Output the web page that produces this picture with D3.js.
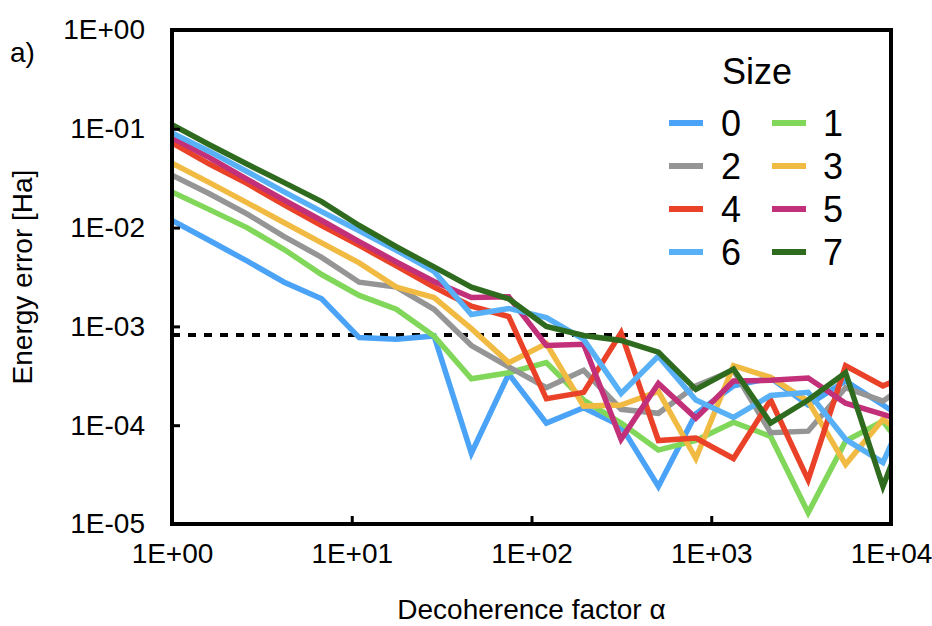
<!DOCTYPE html>
<html>
<head>
<meta charset="utf-8">
<script src="https://cdn.jsdelivr.net/npm/d3@7"></script>
<style>
  html, body { margin: 0; padding: 0; background: #fff; }
  svg { display: block; font-family: "Liberation Sans", Arial, Helvetica, sans-serif; }
</style>
</head>
<body>
<svg id="chart" width="932" height="626"></svg>
<script>
// ---- data ----
const alpha = [1, 1.615, 2.61, 4.21, 6.80, 11.0, 17.7, 28.7, 46.3, 74.7, 121, 195, 315, 508, 821, 1330, 2140, 3460, 5590, 9020, 14600];

const size0 = [1.18e-2, 7.4e-3, 4.6e-3, 2.8e-3, 1.9e-3, 7.7e-4, 7.4e-4, 8.0e-4, 5.2e-5, 3.3e-4, 1.05e-4, 1.5e-4, 9.8e-5, 2.4e-5, 1.3e-4, 2.5e-4, 3.0e-4, 1.6e-4, 2.8e-4, 1.6e-4, 9.0e-5];
const size1 = [2.3e-2, 1.52e-2, 1.0e-2, 6.0e-3, 3.35e-3, 2.06e-3, 1.49e-3, 8.0e-4, 2.95e-4, 3.4e-4, 4.3e-4, 1.8e-4, 1.05e-4, 5.6e-5, 7.0e-5, 1.07e-4, 7.7e-5, 1.3e-5, 6.9e-5, 1.1e-4, 3.4e-5];
const size2 = [3.4e-2, 2.2e-2, 1.38e-2, 8.1e-3, 5.0e-3, 2.8e-3, 2.5e-3, 1.49e-3, 6.4e-4, 3.9e-4, 2.4e-4, 3.6e-4, 1.45e-4, 1.32e-4, 2.5e-4, 3.6e-4, 8.4e-5, 8.7e-5, 2.4e-4, 1.75e-4, 3.3e-4];
const size3 = [4.5e-2, 2.85e-2, 1.79e-2, 1.12e-2, 7.0e-3, 4.4e-3, 2.5e-3, 1.96e-3, 9.5e-4, 4.3e-4, 6.7e-4, 1.56e-4, 1.6e-4, 2.2e-4, 4.6e-5, 4.0e-4, 3.05e-4, 1.75e-4, 4.0e-5, 1.15e-4, 6.1e-5];
const size4 = [7.2e-2, 4.4e-2, 2.8e-2, 1.7e-2, 1.05e-2, 6.6e-3, 4.1e-3, 2.5e-3, 1.6e-3, 1.26e-3, 1.85e-4, 2.15e-4, 8.6e-4, 7.0e-5, 7.4e-5, 4.6e-5, 1.8e-4, 2.8e-5, 4.0e-4, 2.5e-4, 3.6e-4];
const size5 = [8.1e-2, 5.1e-2, 3.1e-2, 1.9e-2, 1.18e-2, 7.2e-3, 4.5e-3, 2.85e-3, 1.96e-3, 2.0e-3, 6.4e-4, 6.6e-4, 7.2e-5, 2.65e-4, 1.18e-4, 2.8e-4, 2.85e-4, 3.0e-4, 1.67e-4, 1.29e-4, 9.8e-5];
const size6 = [9.1e-2, 5.9e-2, 3.7e-2, 2.3e-2, 1.45e-2, 9.3e-3, 5.9e-3, 3.6e-3, 1.32e-3, 1.52e-3, 1.23e-3, 7.4e-4, 2.1e-4, 5.0e-4, 1.8e-4, 1.2e-4, 2.0e-4, 2.15e-4, 7.2e-5, 4.2e-5, 2.9e-4];
const size7 = [1.10e-1, 6.9e-2, 4.4e-2, 2.85e-2, 1.83e-2, 1.05e-2, 6.4e-3, 4.0e-3, 2.5e-3, 1.9e-3, 1.0e-3, 8.1e-4, 7.2e-4, 5.5e-4, 2.3e-4, 3.7e-4, 1.05e-4, 1.8e-4, 3.4e-4, 2.4e-5, 2.3e-4];

const seriesNames = ["0", "1", "2", "3", "4", "5", "6", "7"];
const seriesValues = [size0, size1, size2, size3, size4, size5, size6, size7];
const seriesColors = ["#4aa3f7", "#81d75a", "#959595", "#f1bb43", "#ea4228", "#c3307a", "#58b0f6", "#2e6b1f"];

const threshold = 8.2e-4;

const xTicks = [1, 10, 100, 1000, 10000];
const xTickLabels = ["1E+00", "1E+01", "1E+02", "1E+03", "1E+04"];
const yTicks = [1, 0.1, 0.01, 0.001, 0.0001, 0.00001];
const yTickLabels = ["1E+00", "1E-01", "1E-02", "1E-03", "1E-04", "1E-05"];

const xTitle = "Decoherence factor α";
const yTitle = "Energy error [Ha]";
const legendTitle = "Size";
const panelLabel = "a)";

// ---- layout ----
const L = 172, R = 891, T = 30, B = 524;
const svg = d3.select("#chart");

const x = d3.scaleLog().domain([1, 1e4]).range([L, R]);
const y = d3.scaleLog().domain([1e-5, 1]).range([B, T]);

svg.append("defs").append("clipPath").attr("id", "plotclip")
  .append("rect").attr("x", L).attr("y", T).attr("width", R - L).attr("height", B - T);

// threshold dashed line
svg.append("line")
  .attr("x1", x(1)).attr("x2", x(1e4))
  .attr("y1", y(threshold)).attr("y2", y(threshold))
  .attr("stroke", "#000").attr("stroke-width", 4)
  .attr("stroke-dasharray", "8,8");

// series lines
const line = d3.line().x((d, i) => x(alpha[i])).y(d => y(d));
const gLines = svg.append("g").attr("clip-path", "url(#plotclip)");
seriesValues.forEach((vals, s) => {
  gLines.append("path")
    .attr("d", line(vals))
    .attr("fill", "none")
    .attr("stroke", seriesColors[s])
    .attr("stroke-width", 5.5)
    .attr("stroke-linejoin", "miter");
});

// axes
const tickFont = 28;
const yAxis = d3.axisLeft(y)
  .tickValues(yTicks)
  .tickFormat((d, i) => yTickLabels[i])
  .tickSizeInner(-8).tickSizeOuter(0).tickPadding(27);
const gy = svg.append("g").attr("transform", `translate(${L},0)`).call(yAxis);
gy.select(".domain").remove();
gy.selectAll(".tick line").attr("stroke", "#000").attr("stroke-width", 3);
gy.selectAll(".tick text").attr("font-size", tickFont).attr("fill", "#000")
  .attr("font-family", "'Liberation Sans', Arial, sans-serif");

const xAxis = d3.axisBottom(x)
  .tickValues(xTicks)
  .tickFormat((d, i) => xTickLabels[i])
  .tickSizeInner(-8).tickSizeOuter(0).tickPadding(19);
const gx = svg.append("g").attr("transform", `translate(0,${B})`).call(xAxis);
gx.select(".domain").remove();
gx.selectAll(".tick line").attr("stroke", "#000").attr("stroke-width", 3);
gx.selectAll(".tick text").attr("font-size", tickFont).attr("fill", "#000")
  .attr("font-family", "'Liberation Sans', Arial, sans-serif");

// frame
svg.append("rect")
  .attr("x", L).attr("y", T).attr("width", R - L).attr("height", B - T)
  .attr("fill", "none").attr("stroke", "#000").attr("stroke-width", 4);

// titles
svg.append("text")
  .attr("x", (L + R) / 2).attr("y", 619)
  .attr("text-anchor", "middle").attr("font-size", 28)
  .text(xTitle);

svg.append("text")
  .attr("transform", `translate(32,${(T + B) / 2}) rotate(-90)`)
  .attr("text-anchor", "middle").attr("font-size", 28)
  .text(yTitle);

svg.append("text")
  .attr("x", 10).attr("y", 62)
  .attr("font-size", 28)
  .text(panelLabel);

// legend
svg.append("text")
  .attr("x", 722).attr("y", 84)
  .attr("font-size", 36)
  .text(legendTitle);

const legSwX = [669, 772];
const legTxtX = [721, 823];
const legRowY = [123, 166, 209, 252];
seriesNames.forEach((name, s) => {
  const col = s % 2, row = Math.floor(s / 2);
  svg.append("line")
    .attr("x1", legSwX[col]).attr("x2", legSwX[col] + 34)
    .attr("y1", legRowY[row]).attr("y2", legRowY[row])
    .attr("stroke", seriesColors[s]).attr("stroke-width", 6);
  svg.append("text")
    .attr("x", legTxtX[col]).attr("y", legRowY[row] + 13)
    .attr("font-size", 36)
    .text(name);
});
</script>
</body>
</html>
